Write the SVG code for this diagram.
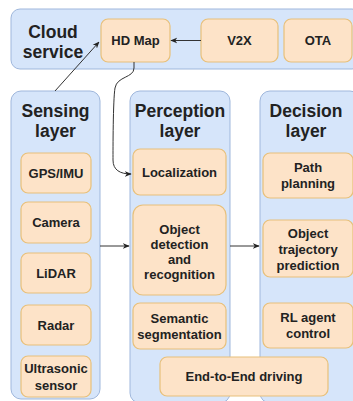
<svg xmlns="http://www.w3.org/2000/svg" width="353" height="401" viewBox="0 0 353 401">
<defs>
<style>
.layer{fill:#d6e5fa;stroke:#9fb7dc;stroke-width:1}
.box{fill:#fde3c8;stroke:#e8c07a;stroke-width:1.2}
.t{font-family:"Liberation Sans",Arial,sans-serif;font-weight:bold;fill:#222;text-anchor:middle}
.ttl{font-size:17.5px}
.lbl{font-size:13px}
.conn{fill:none;stroke:#333;stroke-width:1}
</style>
<marker id="ah" viewBox="0 0 10 10" refX="9" refY="5" markerWidth="7" markerHeight="7" orient="auto">
<path d="M0,1 L10,5 L0,9 L3,5 Z" fill="#222"/>
</marker>
</defs>
<rect width="353" height="401" fill="#fff"/>

<g id="cloud">
<rect class="layer" x="11" y="9" width="350" height="60" rx="9"/>
<text class="t ttl" x="53" y="38">Cloud</text>
<text class="t ttl" x="53" y="58">service</text>
</g>
<g id="hdmap"><rect class="box" x="101" y="19" width="69" height="43" rx="7"/><text class="t lbl" x="135.5" y="45">HD Map</text></g>
<g id="v2x"><rect class="box" x="201" y="19" width="77" height="43" rx="7"/><text class="t lbl" x="239.5" y="45">V2X</text></g>
<g id="ota"><rect class="box" x="284" y="19" width="68" height="43" rx="7"/><text class="t lbl" x="318" y="45">OTA</text></g>

<g id="sensing">
<rect class="layer" x="11" y="91" width="89" height="308" rx="10"/>
<text class="t ttl" x="55.5" y="117">Sensing</text>
<text class="t ttl" x="55.5" y="137">layer</text>
</g>
<g id="gps"><rect class="box" x="21" y="153" width="70" height="40" rx="7"/><text class="t lbl" x="56" y="177.5">GPS/IMU</text></g>
<g id="camera"><rect class="box" x="21" y="202" width="70" height="41" rx="7"/><text class="t lbl" x="56" y="227">Camera</text></g>
<g id="lidar"><rect class="box" x="21" y="253" width="70" height="40" rx="7"/><text class="t lbl" x="56" y="277.5">LiDAR</text></g>
<g id="radar"><rect class="box" x="21" y="305" width="70" height="40" rx="7"/><text class="t lbl" x="56" y="329.5">Radar</text></g>
<g id="ultrasonic"><rect class="box" x="21" y="356" width="70" height="41" rx="7"/><text class="t lbl" x="56" y="373">Ultrasonic</text><text class="t lbl" x="56" y="390">sensor</text></g>

<g id="perception">
<rect class="layer" x="130" y="91" width="100" height="312" rx="10"/>
<text class="t ttl" x="180" y="117">Perception</text>
<text class="t ttl" x="180" y="137">layer</text>
</g>
<g id="localization"><rect class="box" x="133" y="149" width="93" height="46" rx="7"/><text class="t lbl" x="179.5" y="177">Localization</text></g>
<g id="objdet"><rect class="box" x="133" y="205" width="93" height="90" rx="10"/><text class="t lbl" x="179.5" y="234">Object</text><text class="t lbl" x="179.5" y="249">detection</text><text class="t lbl" x="179.5" y="264">and</text><text class="t lbl" x="179.5" y="279">recognition</text></g>
<g id="semantic"><rect class="box" x="133" y="303" width="93" height="46" rx="7"/><text class="t lbl" x="179.5" y="323">Semantic</text><text class="t lbl" x="179.5" y="339">segmentation</text></g>

<g id="decision">
<rect class="layer" x="260" y="91" width="100" height="312" rx="10"/>
<text class="t ttl" x="306" y="117">Decision</text>
<text class="t ttl" x="306" y="137">layer</text>
</g>
<g id="path"><rect class="box" x="263" y="153" width="90" height="45" rx="7"/><text class="t lbl" x="308" y="172">Path</text><text class="t lbl" x="308" y="188">planning</text></g>
<g id="traj"><rect class="box" x="263" y="220" width="90" height="57" rx="7"/><text class="t lbl" x="308" y="238">Object</text><text class="t lbl" x="308" y="254">trajectory</text><text class="t lbl" x="308" y="270">prediction</text></g>
<g id="rl"><rect class="box" x="263" y="303" width="90" height="45" rx="7"/><text class="t lbl" x="308" y="322">RL agent</text><text class="t lbl" x="308" y="338">control</text></g>

<g id="e2e"><rect class="box" x="160" y="357" width="168" height="39" rx="7"/><text class="t lbl" x="244" y="381">End-to-End driving</text></g>

<g id="connectors">
<path class="conn" d="M201,40.5 H171" marker-end="url(#ah)"/>
<path class="conn" d="M55,91 L99,42" marker-end="url(#ah)"/>
<path class="conn" d="M134,62 V68 C134,78 117,76 115,88 C113,100 113,150 113,160 C113,170 120,174 131,174" marker-end="url(#ah)"/>
<path class="conn" d="M100,246 H129" marker-end="url(#ah)"/>
<path class="conn" d="M230,246 H259" marker-end="url(#ah)"/>
</g>
</svg>
